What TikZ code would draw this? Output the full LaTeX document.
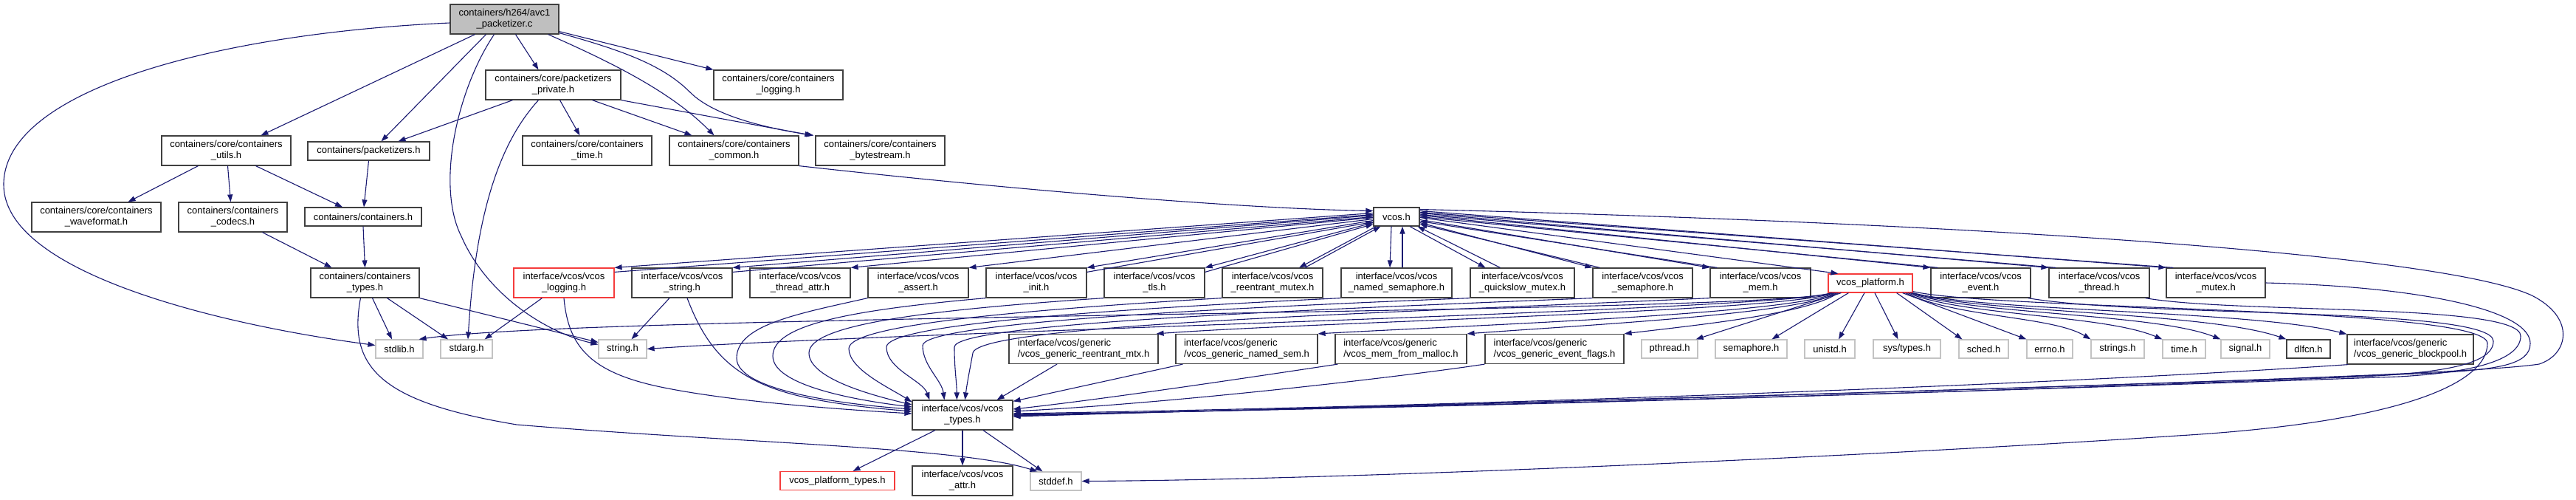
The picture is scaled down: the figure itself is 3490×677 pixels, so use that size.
\documentclass[tikz,border=0pt]{standalone}
\usepackage{fontspec}
\setmainfont{Liberation Sans}
\usetikzlibrary{arrows.meta}
\definecolor{edgeblue}{RGB}{25,25,112}
\definecolor{maingray}{RGB}{191,191,191}
\definecolor{boxgray}{RGB}{64,64,64}
\definecolor{sysgray}{RGB}{195,195,195}
\definecolor{truncred}{RGB}{245,60,60}
\newcommand{\hdrfont}{\fontsize{13}{15}\selectfont}
\tikzset{
  hdr/.style={draw=boxgray, line width=1.2pt, fill=white, align=center, inner sep=0pt, font=\hdrfont},
  sys/.style={hdr, draw=sysgray},
  trunc/.style={hdr, draw=truncred},
  twoline/.style={minimum height=40pt},
  oneline/.style={minimum height=25pt},
  dep/.style={draw=edgeblue, line width=1.1pt, -{Triangle[length=10pt,width=7pt]}}
}
\begin{document}
\begin{tikzpicture}[x=1pt, y=-1pt]
    \useasboundingbox (0,0) rectangle (3490,677);
    \node[hdr, twoline, fill=maingray, minimum width=147pt] (main) at (683.5,26) {containers/h264/avc1\\\_packetizer.c};
    \node[hdr, twoline, minimum width=183pt] (private) at (749.5,115) {containers/core/packetizers\\\_private.h};
    \node[hdr, twoline, minimum width=175pt] (clogging) at (1054.5,115) {containers/core/containers\\\_logging.h};
    \node[hdr, twoline, minimum width=175pt] (utils) at (306.5,204) {containers/core/containers\\\_utils.h};
    \node[hdr, oneline, minimum width=165pt] (pkt) at (499.5,204.5) {containers/packetizers.h};
    \node[hdr, twoline, minimum width=175pt] (time) at (795.5,204) {containers/core/containers\\\_time.h};
    \node[hdr, twoline, minimum width=175pt] (common) at (994.5,204) {containers/core/containers\\\_common.h};
    \node[hdr, twoline, minimum width=175pt] (bytestream) at (1192.5,204) {containers/core/containers\\\_bytestream.h};
    \node[hdr, twoline, minimum width=175pt] (waveformat) at (130.5,294) {containers/core/containers\\\_waveformat.h};
    \node[hdr, twoline, minimum width=147pt] (codecs) at (315.5,294) {containers/containers\\\_codecs.h};
    \node[hdr, oneline, minimum width=158pt] (containersh) at (492,293.5) {containers/containers.h};
    \node[hdr, oneline, minimum width=62pt] (vcos) at (1892,293.5) {vcos.h};
    \node[hdr, twoline, minimum width=147pt] (ctypes) at (494.5,383) {containers/containers\\\_types.h};
    \node[trunc, twoline, minimum width=136pt] (vlogging) at (764,383) {interface/vcos/vcos\\\_logging.h};
    \node[hdr, twoline, minimum width=136pt] (vstring) at (924,383) {interface/vcos/vcos\\\_string.h};
    \node[hdr, twoline, minimum width=136pt] (threadattr) at (1084,383) {interface/vcos/vcos\\\_thread\_attr.h};
    \node[hdr, twoline, minimum width=136pt] (assert) at (1244,383) {interface/vcos/vcos\\\_assert.h};
    \node[hdr, twoline, minimum width=136pt] (init) at (1404,383) {interface/vcos/vcos\\\_init.h};
    \node[hdr, twoline, minimum width=136pt] (tls) at (1564,383) {interface/vcos/vcos\\\_tls.h};
    \node[hdr, twoline, minimum width=136pt] (rmutex) at (1724,383) {interface/vcos/vcos\\\_reentrant\_mutex.h};
    \node[hdr, twoline, minimum width=150pt] (namedsem) at (1892,383) {interface/vcos/vcos\\\_named\_semaphore.h};
    \node[hdr, twoline, minimum width=141pt] (quickslow) at (2062.5,383) {interface/vcos/vcos\\\_quickslow\_mutex.h};
    \node[hdr, twoline, minimum width=135pt] (semaphore) at (2225.5,383) {interface/vcos/vcos\\\_semaphore.h};
    \node[hdr, twoline, minimum width=136pt] (mem) at (2385,383) {interface/vcos/vcos\\\_mem.h};
    \node[trunc, oneline, minimum width=114pt] (platform) at (2534,383.5) {vcos\_platform.h};
    \node[hdr, twoline, minimum width=135pt] (event) at (2683.5,383) {interface/vcos/vcos\\\_event.h};
    \node[hdr, twoline, minimum width=136pt] (thread) at (2844,383) {interface/vcos/vcos\\\_thread.h};
    \node[hdr, twoline, minimum width=134pt] (mutex) at (3002,383) {interface/vcos/vcos\\\_mutex.h};
    \node[sys, oneline, minimum width=64pt] (stdlib) at (541,472.5) {stdlib.h};
    \node[sys, oneline, minimum width=70pt] (stdarg) at (632,472.5) {stdarg.h};
    \node[sys, oneline, minimum width=65pt] (stringh) at (843.5,472.5) {string.h};
    \node[hdr, twoline, minimum width=202pt, align=left] (grmtx) at (1468,472.5) {interface/vcos/generic\\/vcos\_generic\_reentrant\_mtx.h};
    \node[hdr, twoline, minimum width=192pt, align=left] (gnsem) at (1689,472.5) {interface/vcos/generic\\/vcos\_generic\_named\_sem.h};
    \node[hdr, twoline, minimum width=178pt, align=left] (memmalloc) at (1898,472.5) {interface/vcos/generic\\/vcos\_mem\_from\_malloc.h};
    \node[hdr, twoline, minimum width=188pt, align=left] (gevflags) at (2106,472.5) {interface/vcos/generic\\/vcos\_generic\_event\_flags.h};
    \node[sys, oneline, minimum width=76pt] (pthread) at (2262,472.5) {pthread.h};
    \node[sys, oneline, minimum width=97pt] (semh) at (2372.5,472.5) {semaphore.h};
    \node[sys, oneline, minimum width=68pt] (unistd) at (2479,472.5) {unistd.h};
    \node[sys, oneline, minimum width=91pt] (systypes) at (2583.5,472.5) {sys/types.h};
    \node[sys, oneline, minimum width=67pt] (sched) at (2687.5,472.5) {sched.h};
    \node[sys, oneline, minimum width=62pt] (errno) at (2777,472.5) {errno.h};
    \node[sys, oneline, minimum width=72pt] (strings) at (2869,472.5) {strings.h};
    \node[sys, oneline, minimum width=58pt] (timeh) at (2959,472.5) {time.h};
    \node[sys, oneline, minimum width=66pt] (signal) at (3042,472.5) {signal.h};
    \node[hdr, oneline, minimum width=59pt] (dlfcn) at (3127.5,472.5) {dlfcn.h};
    \node[hdr, twoline, minimum width=171pt, align=left] (blockpool) at (3265.5,473) {interface/vcos/generic\\/vcos\_generic\_blockpool.h};
    \node[hdr, twoline, minimum width=136pt] (vtypes) at (1304,562) {interface/vcos/vcos\\\_types.h};
    \node[trunc, oneline, minimum width=155pt] (ptypes) at (1134.5,651) {vcos\_platform\_types.h};
    \node[hdr, twoline, minimum width=136pt] (attr) at (1304,651) {interface/vcos/vcos\\\_attr.h};
    \node[sys, oneline, minimum width=69pt] (stddef) at (1430.5,651.5) {stddef.h};

    \draw[dep] ([yshift=-5pt]main.west) .. controls (300,45) and (5,120) .. (5,250) .. controls (5,370) and (300,440) .. ([yshift=5pt]stdlib.west);
    \draw[dep] ([xshift=-40pt]main.south) -- ([xshift=47pt]utils.north);
    \draw[dep] ([xshift=-25pt]main.south) -- ([xshift=17pt]pkt.north);
    \draw[dep] ([xshift=-14pt]main.south) .. controls (620,120) and (590,250) .. (625,320) .. controls (660,400) and (740,450) .. ([yshift=6pt]stringh.west);
    \draw[dep] ([xshift=15pt]main.south) -- ([xshift=-20pt]private.north);
    \draw[dep] ([xshift=-15pt]main.south east) .. controls (830,85) and (910,125) .. ([xshift=-27pt]common.north);
    \draw[dep] ([yshift=2pt]main.south east) .. controls (850,70) and (900,90) .. (935,125) .. controls (970,160) and (1050,175) .. ([xshift=-2pt]bytestream.north west);
    \draw[dep] ([yshift=4pt]main.south east) -- (clogging.north west);
    \draw[dep] ([xshift=-55pt]private.south) -- ([xshift=40pt]pkt.north);
    \draw[dep] ([xshift=-20pt]private.south) .. controls (680,190) and (645,280) .. ([xshift=2pt]stdarg.north);
    \draw[dep] ([xshift=9pt]private.south) -- ([xshift=-10pt]time.north);
    \draw[dep] ([xshift=53pt]private.south) -- ([xshift=-57pt]common.north);
    \draw[dep] (private.south east) -- ([xshift=-4pt]bytestream.north west);
    \draw[dep] ([xshift=-38pt]utils.south) -- ([xshift=43pt]waveformat.north);
    \draw[dep] ([xshift=2pt]utils.south) -- ([xshift=-3pt]codecs.north);
    \draw[dep] ([xshift=40pt]utils.south) -- ([xshift=-28pt]containersh.north);
    \draw[dep] (pkt.south) -- ([xshift=1pt]containersh.north);
    \draw[dep] ([xshift=40pt]codecs.south) -- ([xshift=-45pt]ctypes.north);
    \draw[dep] (containersh.south) -- (ctypes.north);
    \draw[dep] ([xshift=10pt]ctypes.south) -- ([xshift=-10pt]stdlib.north);
    \draw[dep] ([xshift=30pt]ctypes.south) -- ([xshift=-25pt]stdarg.north);
    \draw[dep] (ctypes.south east) -- ([yshift=9pt]stringh.west);
    \draw[dep] ([xshift=-6pt]ctypes.south) .. controls (470,500) and (520,545) .. (700,575) .. controls (1000,600) and (1300,605) .. ([xshift=-25pt]stddef.north);
    \draw[dep] (common.south east) .. controls (1400,260) and (1700,283) .. ([yshift=8pt]vcos.west);

    \draw[dep] ([xshift=39pt]vlogging.south west) -- ([xshift=-11pt]stdarg.north east);
    \draw[dep] (vlogging.south) .. controls (770,470) and (800,505) .. (900,525) .. controls (1000,545) and (1150,555) .. ([yshift=2pt]vtypes.west);
    \draw[dep] ([xshift=-17pt]vstring.south) -- ([xshift=12pt]stringh.north);
    \draw[dep] ([xshift=7pt]vstring.south) .. controls (960,480) and (1000,520) .. (1100,540) .. controls (1150,550) and (1200,554) .. ([yshift=5pt]vtypes.west);

    \draw[dep] ([yshift=5pt]vcos.west) -- (vlogging.north east);
    \draw[dep] ([yshift=-6pt]vlogging.north east) -- ([yshift=3pt]vcos.west);
    \draw[dep] ([yshift=2pt]vcos.west) -- (vstring.north east);
    \draw[dep] ([yshift=-6pt]vstring.north east) -- (vcos.west);
    \draw[dep] ([yshift=-1pt]vcos.west) -- (threadattr.north east);
    \draw[dep] ([yshift=-3pt]vcos.west) -- (assert.north east);
    \draw[dep] ([yshift=-5pt]vcos.west) -- (init.north east);
    \draw[dep] ([yshift=-6pt]init.north east) -- ([yshift=-7pt]vcos.west);
    \draw[dep] ([yshift=-8pt]vcos.west) -- (tls.north east);
    \draw[dep] ([yshift=-6pt]tls.north east) -- ([yshift=-10pt]vcos.west);
    \draw[dep] ([xshift=4pt]vcos.south west) -- ([xshift=36pt]rmutex.north);
    \draw[dep] ([xshift=44pt]rmutex.north) -- ([xshift=10pt]vcos.south west);
    \draw[dep] ([xshift=-7pt]vcos.south) -- ([xshift=-9pt]namedsem.north);
    \draw[dep] ([xshift=8pt]namedsem.north) -- ([xshift=8pt]vcos.south);
    \draw[dep] ([xshift=18pt]vcos.south) -- ([xshift=-50pt]quickslow.north);
    \draw[dep] ([xshift=-30pt]quickslow.north) -- ([xshift=-3pt]vcos.south east);
    \draw[dep] ([yshift=-8pt]vcos.east) -- (semaphore.north west);
    \draw[dep] ([xshift=10pt]semaphore.north west) -- ([yshift=-10pt]vcos.east);
    \draw[dep] ([yshift=-4pt]vcos.east) -- (mem.north west);
    \draw[dep] ([xshift=10pt]mem.north west) -- ([yshift=-6pt]vcos.east);
    \draw[dep] ([yshift=-1pt]vcos.east) -- ([xshift=14pt]platform.north west);
    \draw[dep] ([yshift=2pt]vcos.east) -- (event.north west);
    \draw[dep] ([xshift=10pt]event.north west) -- (vcos.east);
    \draw[dep] ([yshift=5pt]vcos.east) -- (thread.north west);
    \draw[dep] ([xshift=10pt]thread.north west) -- ([yshift=3pt]vcos.east);
    \draw[dep] ([yshift=8pt]vcos.east) -- (mutex.north west);
    \draw[dep] ([xshift=10pt]mutex.north west) -- ([yshift=6pt]vcos.east);
    \draw[dep] ([yshift=10pt]vcos.east) .. controls (2600,300) and (3300,340) .. (3430,400) .. controls (3490,430) and (3480,480) .. (3440,493) .. controls (3300,515) and (2000,545) .. ([yshift=-2pt]vtypes.east);

    \draw[dep] (assert.south west) .. controls (1080,425) and (998,440) .. (998,485) .. controls (998,530) and (1150,548) .. ([yshift=8pt]vtypes.west);
    \draw[dep] (init.south west) .. controls (1150,420) and (1047,440) .. (1047,482) .. controls (1047,522) and (1160,542) .. ([yshift=11pt]vtypes.west);
    \draw[dep] (tls.south west) .. controls (1250,420) and (1096,440) .. (1096,478) .. controls (1096,512) and (1180,535) .. ([yshift=14pt]vtypes.west);
    \draw[dep] (rmutex.south west) .. controls (1380,420) and (1150,440) .. (1150,472) .. controls (1150,500) and (1205,525) .. ([yshift=-3pt]vtypes.north west);
    \draw[dep] (namedsem.south west) .. controls (1480,420) and (1201,440) .. (1201,470) .. controls (1201,500) and (1250,515) .. ([xshift=24pt]vtypes.north west);
    \draw[dep] (quickslow.south west) .. controls (1580,420) and (1250,440) .. (1250,468) .. controls (1250,495) and (1276,515) .. ([xshift=44pt]vtypes.north west);
    \draw[dep] (semaphore.south west) .. controls (1700,422) and (1293,440) .. (1293,470) .. controls (1293,500) and (1296,515) .. ([xshift=61pt]vtypes.north west);
    \draw[dep] (mem.south west) .. controls (1850,425) and (1325,440) .. (1318,478) .. controls (1313,505) and (1310,520) .. ([xshift=72pt]vtypes.north west);
    \draw[dep] ([xshift=-4pt]event.south east) .. controls (2900,430) and (3378,415) .. (3378,462) .. controls (3378,495) and (3300,505) .. (3200,510) .. controls (2700,530) and (2000,552) .. ([yshift=1pt]vtypes.east);
    \draw[dep] ([xshift=-6pt]thread.south east) .. controls (3030,425) and (3415,410) .. (3415,455) .. controls (3415,490) and (3340,505) .. (3250,510) .. controls (2700,530) and (2000,550) .. (vtypes.east);
    \draw[dep] (mutex.east) .. controls (3280,388) and (3428,420) .. (3428,465) .. controls (3428,495) and (3380,500) .. (3300,505) .. controls (2800,525) and (2000,548) .. ([yshift=-1pt]vtypes.east);

    \draw[dep] ([xshift=4pt]platform.south west) .. controls (2400,425) and (800,425) .. ([xshift=-6pt]stdlib.north east);
    \draw[dep] ([xshift=6pt]platform.south west) .. controls (2420,420) and (1200,450) .. (stringh.east);
    \draw[dep] ([xshift=8pt]platform.south west) .. controls (2420,422) and (1800,435) .. ([xshift=-3pt]grmtx.north east);
    \draw[dep] ([xshift=10pt]platform.south west) .. controls (2430,425) and (2000,440) .. (gnsem.north east);
    \draw[dep] ([xshift=12pt]platform.south west) .. controls (2440,425) and (2150,440) .. (memmalloc.north east);
    \draw[dep] ([xshift=14pt]platform.south west) .. controls (2450,425) and (2300,440) .. (gevflags.north east);
    \draw[dep] ([xshift=18pt]platform.south west) -- ([xshift=-3pt]pthread.north east);
    \draw[dep] ([xshift=28pt]platform.south west) -- ([xshift=28pt]semh.north);
    \draw[dep] ([xshift=-8pt]platform.south) -- ([xshift=12pt]unistd.north);
    \draw[dep] ([xshift=6pt]platform.south) -- ([xshift=-12pt]systypes.north);
    \draw[dep] ([xshift=-22pt]platform.south east) -- ([xshift=5pt]sched.north west);
    \draw[dep] ([xshift=-14pt]platform.south east) -- (errno.north west);
    \draw[dep] ([xshift=-10pt]platform.south east) .. controls (2650,430) and (2780,428) .. (strings.north west);
    \draw[dep] ([xshift=-7pt]platform.south east) .. controls (2660,428) and (2850,426) .. (timeh.north west);
    \draw[dep] ([xshift=-4pt]platform.south east) .. controls (2670,426) and (2920,424) .. (signal.north west);
    \draw[dep] ([xshift=-2pt]platform.south east) .. controls (2680,424) and (2990,422) .. (dlfcn.north west);
    \draw[dep] (platform.south east) .. controls (2690,422) and (3050,420) .. (blockpool.north west);
    \draw[dep] ([yshift=2pt]platform.south east) .. controls (2700,420) and (3370,415) .. (3370,465) .. controls (3370,520) and (3250,572) .. (2950,590) .. controls (2500,620) and (1800,650) .. (stddef.east);

    \draw[dep] ([xshift=-36pt]grmtx.south) -- ([xshift=-22pt]vtypes.north east);
    \draw[dep] ([xshift=10pt]gnsem.south west) -- ([yshift=-2pt]vtypes.north east);
    \draw[dep] ([xshift=4pt]memmalloc.south west) .. controls (1700,510) and (1500,540) .. ([yshift=8pt]vtypes.east);
    \draw[dep] (gevflags.south west) .. controls (1900,510) and (1600,545) .. ([yshift=5pt]vtypes.east);
    \draw[dep] ([xshift=2pt]blockpool.south west) .. controls (2800,520) and (2000,550) .. ([yshift=2pt]vtypes.east);

    \draw[dep] ([xshift=-37pt]vtypes.south) -- ([xshift=21pt]ptypes.north);
    \draw[dep] (vtypes.south) -- (attr.north);
    \draw[dep] ([xshift=28pt]vtypes.south) -- ([xshift=-18pt]stddef.north);
\end{tikzpicture}
\end{document}
